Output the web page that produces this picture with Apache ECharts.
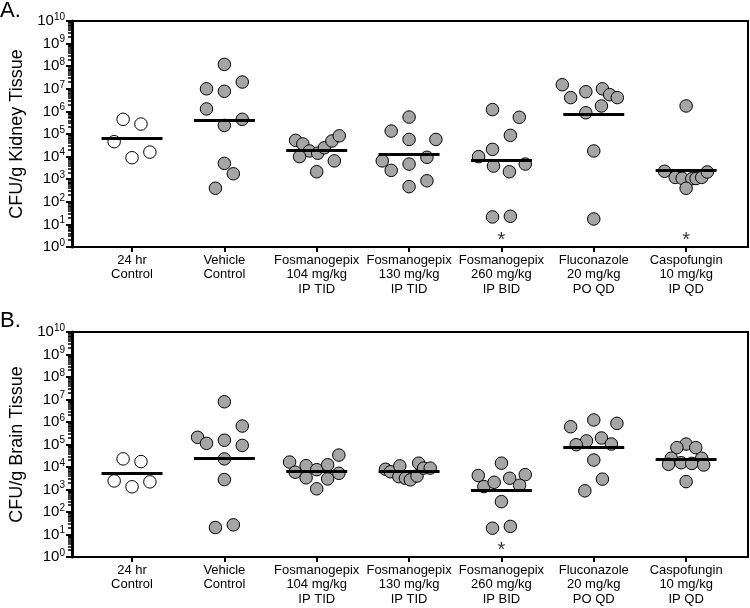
<!DOCTYPE html>
<html><head><meta charset="utf-8">
<script src="https://cdn.jsdelivr.net/npm/echarts@6/dist/echarts.min.js"></script>
<style>html,body{margin:0;padding:0;background:#fff}#c{width:750px;height:608px}</style>
</head><body><div id="c"></div>
<script>
// Categories (x-axis labels)
const categories = [
  '24 hr\nControl', 'Vehicle\nControl', 'Fosmanogepix\n104 mg/kg\nIP TID',
  'Fosmanogepix\n130 mg/kg\nIP TID', 'Fosmanogepix\n260 mg/kg\nIP BID',
  'Fluconazole\n20 mg/kg\nPO QD', 'Caspofungin\n10 mg/kg\nIP QD'
];
// Y tick exponents (10^n)
const yTickExponents = [0,1,2,3,4,5,6,7,8,9,10];

// Kidney: log10(CFU/g) per animal, per group
const kidneyLog = [
  [5.65,5.44,4.66,3.95,4.20],
  [8.08,7.30,7.00,6.89,6.11,5.65,5.38,3.70,3.24,2.60],
  [4.72,4.56,4.25,4.00,4.15,4.39,4.69,4.92,3.81,3.33],
  [5.75,5.13,4.76,4.76,3.97,3.81,3.67,3.39,2.93,2.67],
  [6.08,5.74,4.94,4.32,4.00,3.58,3.67,3.33,1.33,1.36],
  [7.18,6.61,6.87,7.00,6.74,6.61,6.24,5.94,4.25,1.24],
  [6.24,3.35,3.08,3.04,3.02,3.03,3.08,3.32,2.60]
];
// Kidney horizontal scatter offsets (px at category spacing)
const kidneyJitter = [
  [-9,9,-18,0,18],
  [0,18,-18,0,-18,18,0,0,9,-9],
  [-21.3,-14,-7.3,-17.3,1,7.7,15.3,22.7,17.7,0],
  [0,-18,0,27,18,-27,0,-18,18,0],
  [-9,18,9,-9,-23,-8,24,8,-9,9],
  [-31.7,-23.3,-8,8.7,16,23.7,7.7,-8,0,0],
  [0,-21.7,-11,-4,5.7,10,15.7,21.3,0]
];
const kidneyMedianLog = [4.79,5.59,4.29,4.10,3.82,5.87,3.39];
const kidneyStars = [5,7];

// Brain
const brainLog = [
  [4.36,4.24,3.38,3.12,3.34],
  [6.90,5.82,5.32,5.05,5.19,4.96,4.36,3.44,1.31,1.43],
  [4.22,3.77,4.06,3.52,3.88,3.03,4.10,3.47,4.53,3.72],
  [3.90,3.79,4.05,3.57,3.50,3.43,3.60,4.17,3.95,3.95],
  [4.17,3.62,3.13,3.32,3.50,3.66,3.19,2.46,1.28,1.36],
  [6.09,5.79,5.94,5.16,5.29,4.99,5.02,4.31,3.46,2.94],
  [5.02,4.86,4.86,4.39,4.39,4.12,4.19,4.16,4.09,3.35]
];
const brainJitter = [
  [-9,9,-18,0,18],
  [0,18,-27,-18,0,18,0,0,-9,9],
  [-27.3,-21.7,-10.7,-10.7,0,0,11,11,22.3,22.3],
  [-23.7,-18.7,-9.3,-10.3,-3.7,1.3,8,9.7,14.7,21.3],
  [0,-23.3,-17.7,-7.3,8.3,24,18.3,0,-9,9],
  [0,-23.3,23.3,-7.3,7.7,-17.7,17.7,0,8.7,-9],
  [0,-9.3,9.7,-15,15.7,-17.7,-5,5.7,17.7,0]
];
const brainMedianLog = [3.71,4.37,3.83,3.83,2.95,4.90,4.34];
const brainStars = [5];

const FONT = 'Liberation Sans, Arial, Helvetica, sans-serif';
const PX_PER_CAT = 93;
const HALF_LINE = 0.33;
const STAR_LOG = 0.3;

const chart = echarts.init(document.getElementById('c'), null, {renderer:'canvas'});

// minor ticks at 2..9 x 10^e, expressed in log10 units (the y axis plots log10 CFU/g)
const minorTicks = [];
for (let e = 0; e < 10; e++) for (let m = 2; m <= 9; m++) minorTicks.push(e + Math.log10(m));
const catTicks = categories.map((c,i)=>i+1);

const grids = [
  {left:68, top:21, right:2, height:226},
  {left:68, top:332, right:2, height:225}
];
const titles = ['CFU/g Kidney Tissue','CFU/g Brain Tissue'];
const panels = [
  {log:kidneyLog, jit:kidneyJitter, med:kidneyMedianLog, stars:kidneyStars},
  {log:brainLog, jit:brainJitter, med:brainMedianLog, stars:brainStars}
];

const xAxes = [], yAxes = [], series = [];
grids.forEach((g, k) => {
  g.show = true; g.borderColor = '#000'; g.borderWidth = 2; g.backgroundColor = '#fff';
  xAxes.push({
    type:'value', gridIndex:k, min:0.35, max:7.67,
    splitLine:{show:false},
    axisLine:{show:true, onZero:false, lineStyle:{color:'#000', width:2}},
    axisTick:{show:true, customValues:catTicks, length:5, lineStyle:{color:'#000', width:2}},
    axisLabel:{customValues:catTicks, formatter:v=>categories[Math.round(v)-1], color:'#000',
      fontFamily:FONT, fontSize:13, lineHeight:14.5, margin:6}
  });
  yAxes.push({
    type:'value', gridIndex:k, min:0, max:10, interval:1, position:'left',
    name:titles[k], nameLocation:'middle', nameGap:46,
    nameTextStyle:{fontFamily:FONT, fontSize:18, color:'#000'},
    splitLine:{show:false},
    axisLine:{show:true, onZero:false, lineStyle:{color:'#000', width:3}},
    axisTick:{show:true, length:6, lineStyle:{color:'#000', width:2}},
    axisLabel:{margin:7,
      formatter:v=>'{b|10}{s|' + Math.round(v) + '}',
      rich:{b:{fontFamily:FONT, fontSize:15, color:'#000'}, s:{fontFamily:FONT, fontSize:10, color:'#000', verticalAlign:'top', padding:[0,0,8,0]}}}
  });
  yAxes.push({
    type:'value', gridIndex:k, min:0, max:10, position:'left', offset:0,
    splitLine:{show:false}, splitArea:{show:false}, axisLine:{show:false, onZero:false},
    axisTick:{show:true, customValues:minorTicks, length:4, lineStyle:{color:'#000', width:1.5}},
    axisLabel:{show:false}
  });
  const p = panels[k];
  const open = [], filled = [];
  p.log.forEach((arr, gi) => {
    arr.forEach((lv, j) => {
      const pt = [gi + 1 + p.jit[gi][j] / PX_PER_CAT, lv];
      (gi === 0 ? open : filled).push(pt);
    });
  });
  series.push({
    type:'scatter', xAxisIndex:k, yAxisIndex:2*k, data:[], z:1, silent:true,
    markLine:{silent:true, symbol:['none','none'], label:{show:false},
      lineStyle:{color:'#000', width:3, type:'solid'},
      data:p.med.map((m,gi)=>[{coord:[gi+1-HALF_LINE, m]},{coord:[gi+1+HALF_LINE, m]}])}
  });
  series.push({type:'scatter', xAxisIndex:k, yAxisIndex:2*k, data:open, z:3, symbolSize:12.5,
    itemStyle:{color:'#fff', borderColor:'#000', borderWidth:1, opacity:1}});
  series.push({type:'scatter', xAxisIndex:k, yAxisIndex:2*k, data:filled, z:3, symbolSize:12.5,
    itemStyle:{color:'#a5a5a5', borderColor:'#000', borderWidth:1, opacity:1}});
  series.push({type:'scatter', xAxisIndex:k, yAxisIndex:2*k, z:4, symbolSize:1, symbol:'circle',
    itemStyle:{color:'rgba(0,0,0,0)'},
    data:p.stars.map(s=>[s, STAR_LOG]),
    label:{show:true, position:'inside', formatter:'*', fontFamily:FONT, fontSize:20, color:'#000'}});
});

chart.setOption({
  animation:false,
  grid:grids,
  xAxis:xAxes,
  yAxis:yAxes,
  graphic:[
    {type:'text', left:0, top:0, style:{text:'A.', fontFamily:FONT, fontSize:22, fill:'#000'}},
    {type:'text', left:0, top:310, style:{text:'B.', fontFamily:FONT, fontSize:22, fill:'#000'}}
  ],
  series:series
});
</script></body></html>
